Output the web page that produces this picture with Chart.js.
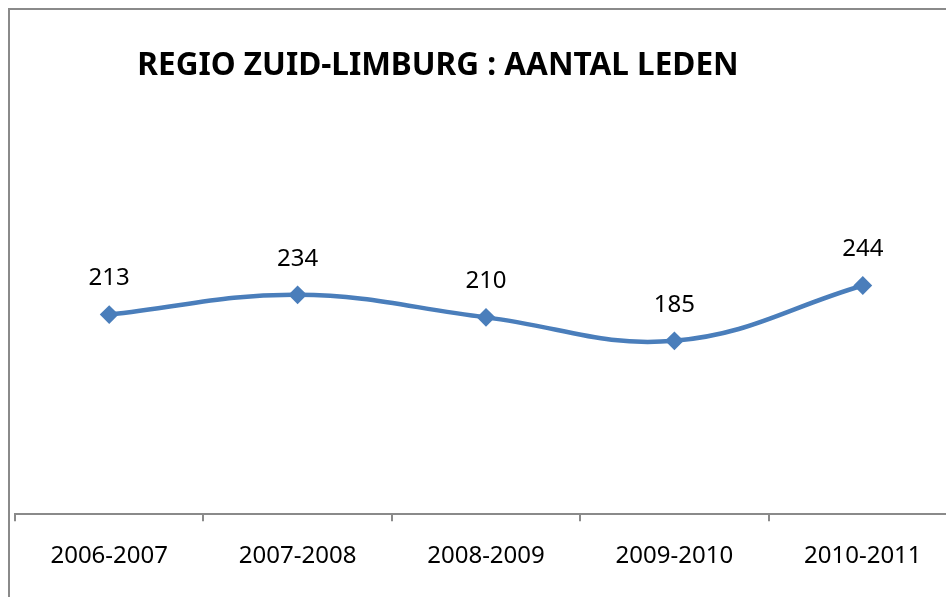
<!DOCTYPE html>
<html>
<head>
<meta charset="utf-8">
<script src="https://cdn.jsdelivr.net/npm/chart.js@4/dist/chart.umd.min.js"></script>
<style>
  html, body { margin: 0; padding: 0; background: #fff; overflow: hidden; }
  #wrap { position: relative; width: 946px; height: 597px; overflow: hidden; }
  #frame { position: absolute; left: 8px; top: 8px; width: 1000px; height: 700px;
           border-left: 2px solid #8a8a8a; border-top: 2px solid #8a8a8a; }
  #holder { position: absolute; left: 0; top: 0; width: 967px; height: 597px; }
</style>
</head>
<body>
<div id="wrap">
  <div id="frame"></div>
  <div id="holder"><canvas id="ledenChart" width="967" height="597"></canvas></div>
</div>
<script>
const seizoenen = ["2006-2007", "2007-2008", "2008-2009", "2009-2010", "2010-2011"];
const leden = [213, 234, 210, 185, 244];
const titel = "REGIO ZUID-LIMBURG : AANTAL LEDEN";
const blauw = "#4a7ebb";

// labels boven de punten + titel
const tekstPlugin = {
  id: "tekst",
  afterDatasetsDraw(chart) {
    const ctx = chart.ctx;
    const meta = chart.getDatasetMeta(0);
    ctx.save();
    ctx.fillStyle = "#000";
    ctx.font = "24px 'Noto Sans'";
    ctx.textAlign = "center";
    ctx.textBaseline = "middle";
    meta.data.forEach((pt, i) => {
      ctx.fillText(String(leden[i]), pt.x, pt.y - 36);
    });
    ctx.font = "bold 31.5px 'Noto Sans'";
    ctx.fillText(titel, 438, 66);
    ctx.restore();
  }
};

new Chart(document.getElementById("ledenChart"), {
  type: "line",
  data: {
    labels: seizoenen,
    datasets: [{
      data: leden,
      borderColor: blauw,
      backgroundColor: blauw,
      borderWidth: 4.5,
      tension: 0.4,
      pointStyle: "rectRot",
      pointRadius: 8,
      pointBorderWidth: 2,
      pointBackgroundColor: blauw,
      pointBorderColor: blauw,
      clip: false
    }]
  },
  options: {
    responsive: false,
    animation: false,
    devicePixelRatio: 1,
    layout: { padding: { left: 15, right: 3, top: 233, bottom: 5 } },
    plugins: { legend: { display: false }, tooltip: { enabled: false }, title: { display: false } },
    scales: {
      x: {
        offset: true,
        grid: { drawOnChartArea: false, drawTicks: true, tickLength: 7, color: "#8a8a8a", lineWidth: 2, offset: true },
        border: { display: true, color: "#8a8a8a", width: 2 },
        ticks: { color: "#000", font: { family: "Noto Sans", size: 24 }, padding: 21, maxRotation: 0 }
      },
      y: {
        display: false,
        min: 0,
        max: 300
      }
    }
  },
  plugins: [tekstPlugin]
});
</script>
</body>
</html>
